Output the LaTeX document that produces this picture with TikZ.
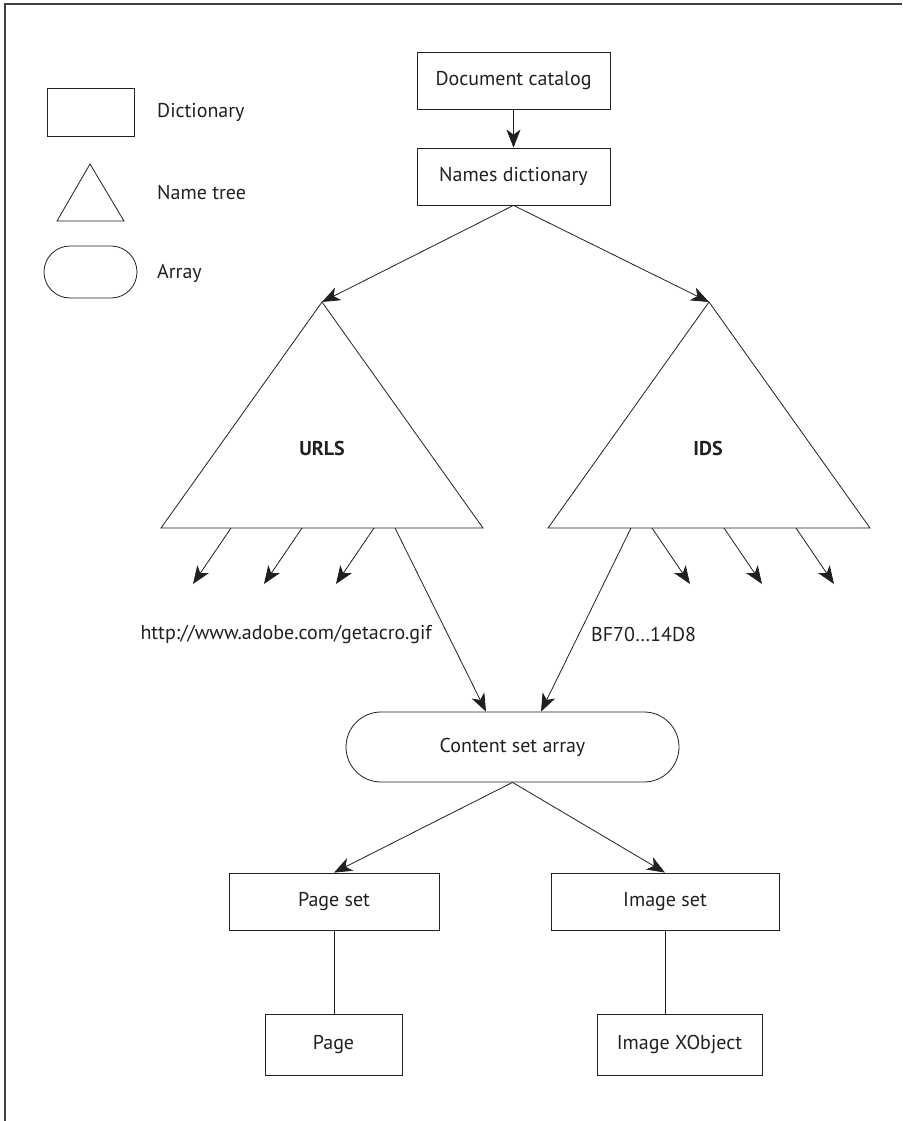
\documentclass[tikz,border=0pt]{standalone}
\usepackage{fontspec}
\setmainfont{PT Sans}
\usetikzlibrary{arrows.meta}
\definecolor{ink}{HTML}{231F20}
\tikzset{
  box/.style={draw=ink, line width=0.8pt, inner sep=0pt, text=ink, font=\fontsize{20}{22}\selectfont},
  arr/.style={draw=ink, line width=0.8pt, -{Stealth[length=18pt,width=14pt,inset=5pt]}},
  conn/.style={draw=ink, line width=0.8pt},
  lbl/.style={text=ink, font=\fontsize{20}{22}\selectfont, inner sep=0pt},
  tri/.style={draw=ink, line width=0.8pt, line join=miter}
}
\begin{document}
\begin{tikzpicture}[x=1pt,y=-1pt]
\useasboundingbox (0,0) rectangle (902,1121);
% frame
\draw[black!75, line width=1.6pt] (5,1121) -- (5,4) -- (902,4);

% legend
\node[box, minimum width=87pt, minimum height=48pt] (legdict) at (90.5,112) {};
\node[lbl, anchor=west] (legdictl) at (157,112) {Dictionary};
\coordinate (lta) at (90,164);
\coordinate (ltb) at (57,221);
\coordinate (ltc) at (124,221);
\draw[tri] (lta) -- (ltb) -- (ltc) -- cycle;
\node[lbl, anchor=west] (legtril) at (157,193) {Name tree};
\node[box, minimum width=93pt, minimum height=52pt, rounded corners=26pt] (legarr) at (90.5,272) {};
\node[lbl, anchor=west] (legarrl) at (157,273) {Array};

% top boxes
\node[box, minimum width=193pt, minimum height=57pt] (cat) at (513.5,80.5) {Document catalog};
\node[box, minimum width=193pt, minimum height=57pt] (names) at (513.5,176.5) {Names dictionary};
\draw[arr] (cat) -- (names);

% triangles
\coordinate (La) at (322,302);
\coordinate (Lb) at (161,528);
\coordinate (Lc) at (483,528);
\draw[tri] (La) -- (Lb) -- (Lc) -- cycle;
\node[lbl, font=\fontsize{20}{22}\selectfont\bfseries] (urls) at (322,448) {URLS};
\coordinate (Ra) at (709,302);
\coordinate (Rb) at (548,528);
\coordinate (Rc) at (870,528);
\draw[tri] (Ra) -- (Rb) -- (Rc) -- cycle;
\node[lbl, font=\fontsize{20}{22}\selectfont\bfseries] (ids) at (708,448) {IDS};

\draw[arr] (names.south) -- (La);
\draw[arr] (names.south) -- (Ra);

% small arrows
\coordinate (ls1) at (231,528); \coordinate (lt1) at (193,584);
\coordinate (ls2) at (302,528); \coordinate (lt2) at (264,584);
\coordinate (ls3) at (374,528); \coordinate (lt3) at (336,584);
\draw[arr] (ls1) -- (lt1);
\draw[arr] (ls2) -- (lt2);
\draw[arr] (ls3) -- (lt3);
\coordinate (rs1) at (652,528); \coordinate (rt1) at (690,584);
\coordinate (rs2) at (724,528); \coordinate (rt2) at (762,584);
\coordinate (rs3) at (796,528); \coordinate (rt3) at (834,584);
\draw[arr] (rs1) -- (rt1);
\draw[arr] (rs2) -- (rt2);
\draw[arr] (rs3) -- (rt3);

% content set array
\node[box, minimum width=333pt, minimum height=70pt, rounded corners=35pt] (content) at (512.5,747) {Content set array};
\coordinate (lls) at (395,528);
\coordinate (rls) at (631,528);
\draw[arr] (lls) -- (content.north -| 486,0);
\draw[arr] (rls) -- (content.north -| 541,0);

\node[lbl, anchor=east] (url) at (432,634) {http://www.adobe.com/getacro.gif};
\node[lbl, anchor=west] (bf) at (591,634) {BF70\char"2026 14D8};

% bottom
\node[box, minimum width=210pt, minimum height=57pt] (pageset) at (334,901.5) {Page set};
\node[box, minimum width=228pt, minimum height=57pt] (imgset) at (665,901.5) {Image set};
\node[box, minimum width=137pt, minimum height=61pt] (page) at (333.5,1044.5) {Page};
\node[box, minimum width=165pt, minimum height=61pt] (xobj) at (679.5,1044.5) {Image XObject};
\draw[arr] (content.south) -- (pageset.north);
\draw[arr] (content.south) -- (imgset.north);
\draw[conn] (pageset.south) -- (pageset.south |- page.north);
\draw[conn] (imgset.south) -- (imgset.south |- xobj.north);
\end{tikzpicture}
\end{document}
